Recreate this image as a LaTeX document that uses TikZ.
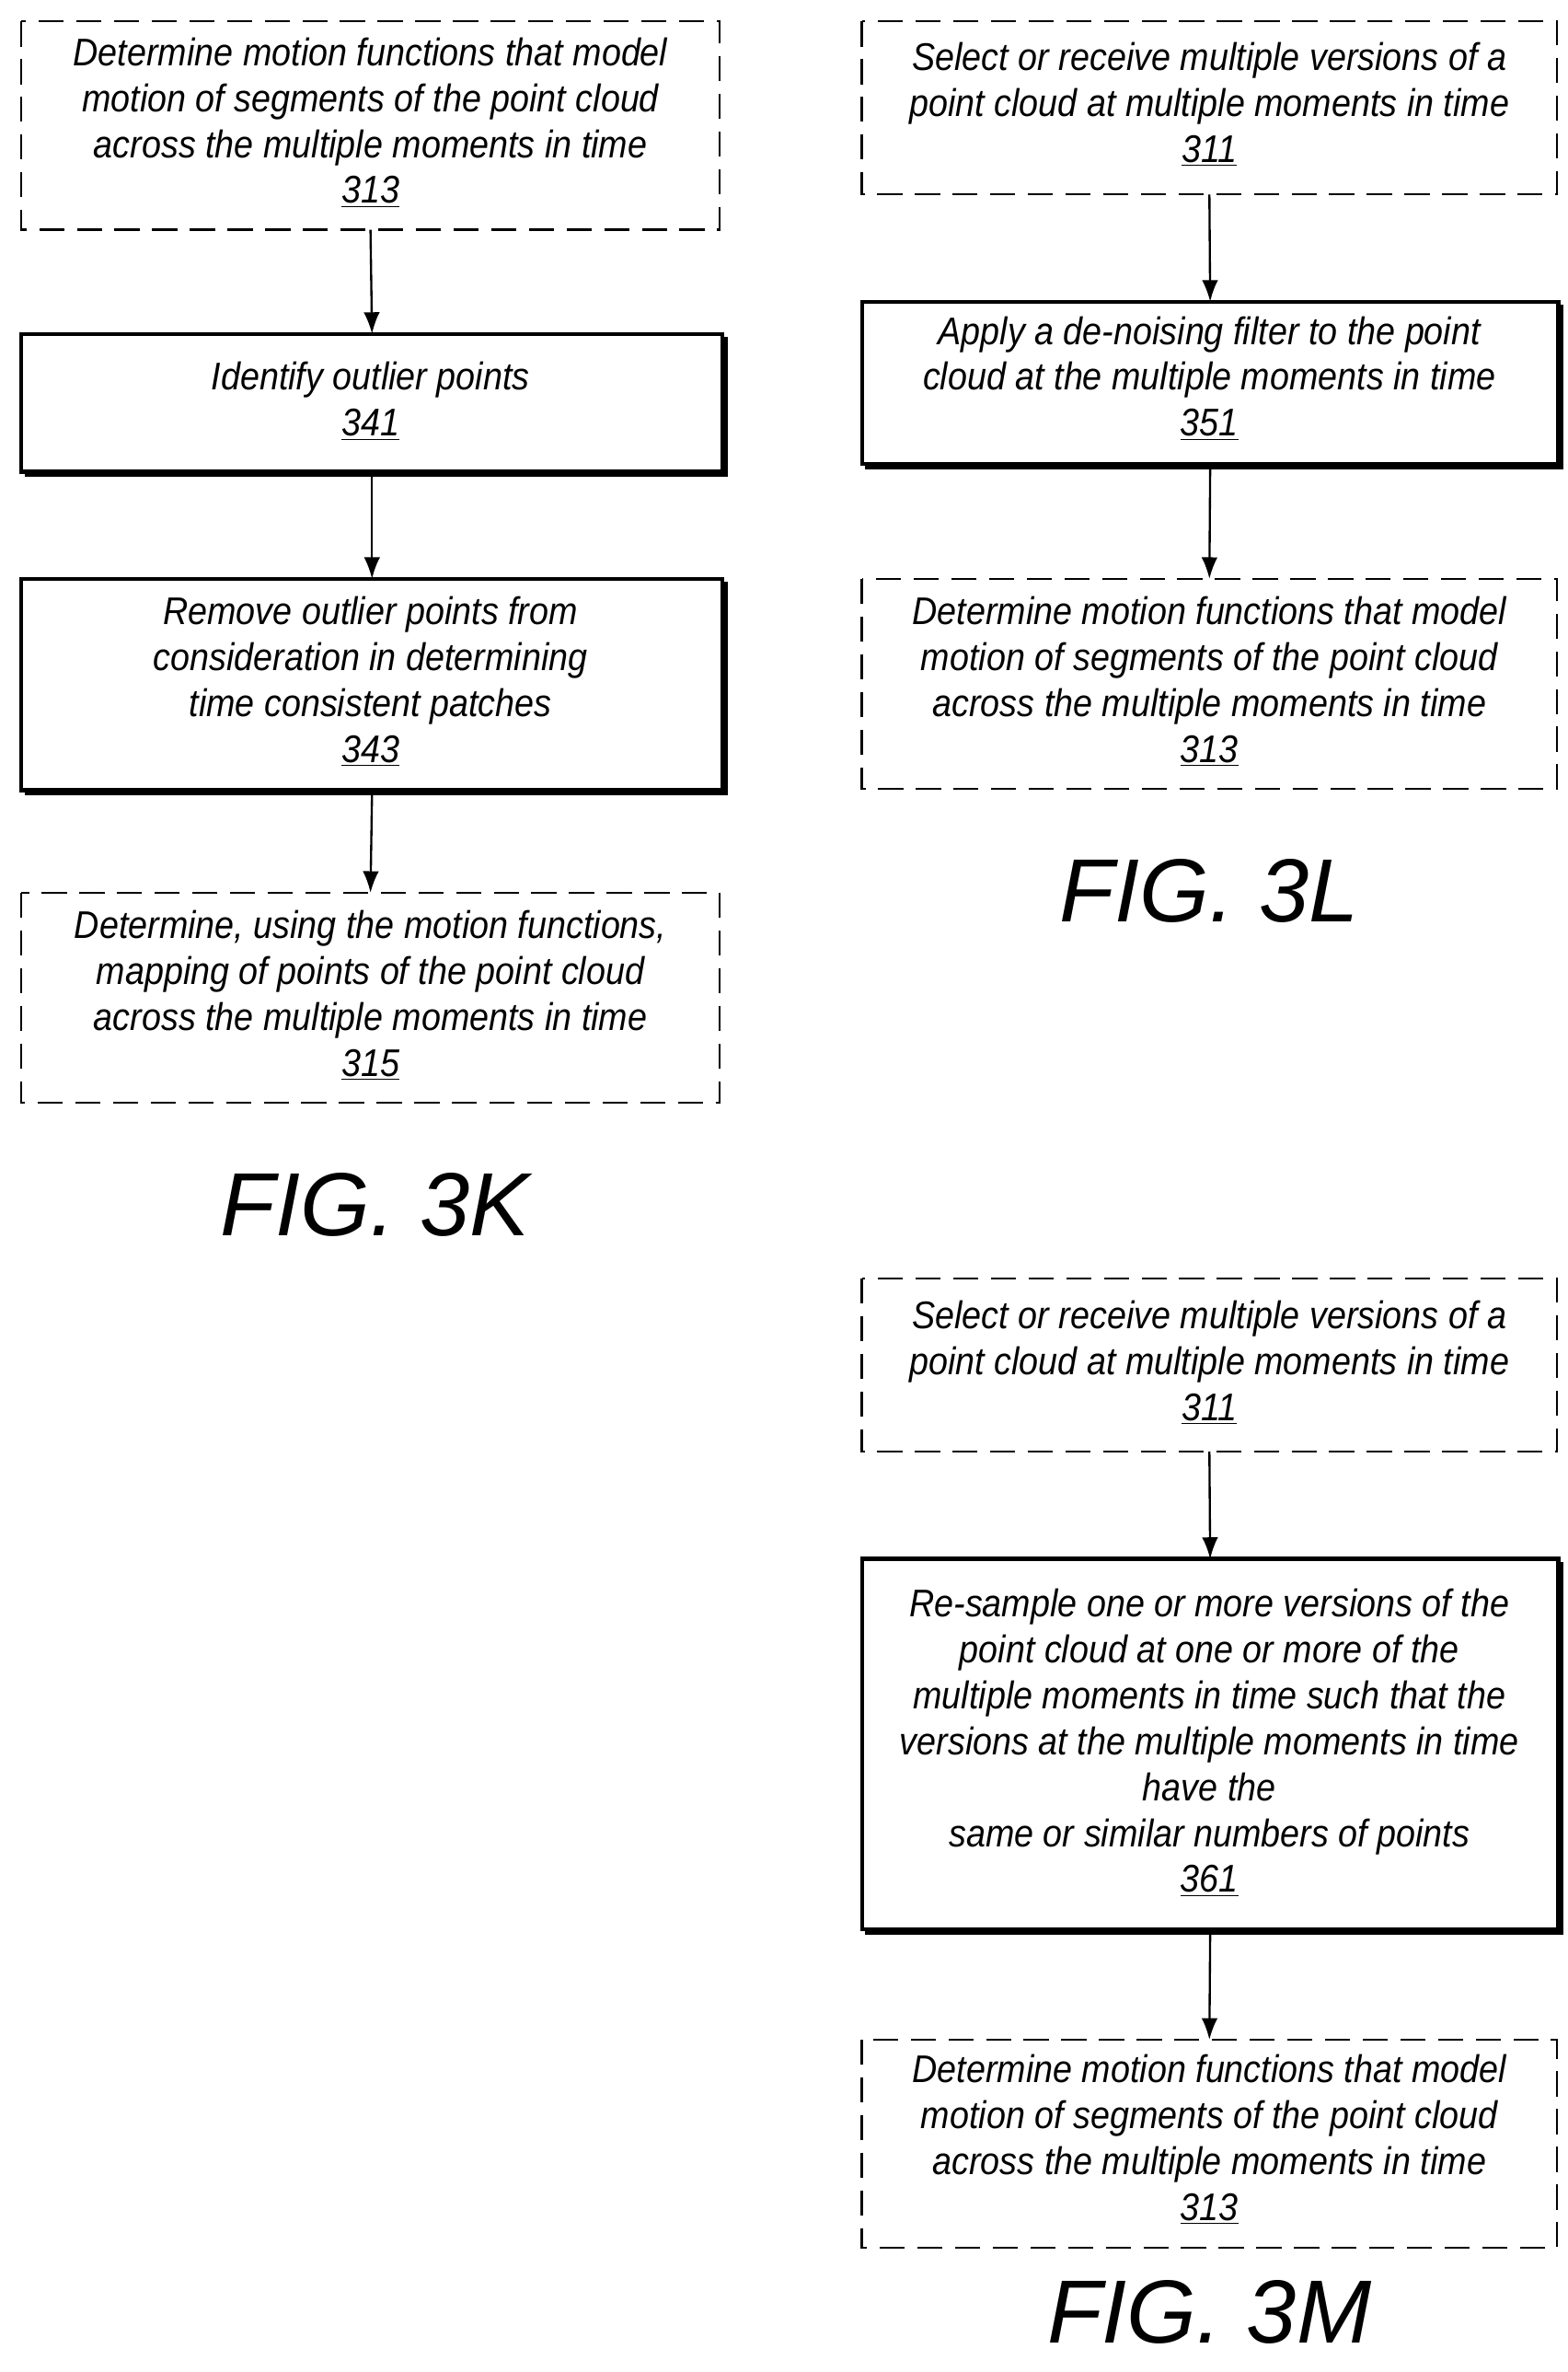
\documentclass[tikz,border=0pt]{standalone}
\usepackage{fontspec}
\setmainfont{Liberation Sans}
\newfontfamily\narrowfont{Liberation Sans}[FakeStretch=0.9]
\usetikzlibrary{arrows.meta}
\begin{document}
\begin{tikzpicture}[x=0.03cm,y=-0.03cm,
  txt/.style={font=\narrowfont\fontsize{21.5}{25.6}\selectfont\itshape,align=center,inner sep=0},
  dbox/.style={draw,line width=1.2pt,dash pattern=on 14pt off 7pt},
  sbox/.style={draw,line width=2.2pt},
  shad/.style={line width=2.5pt},
  arr/.style={-{Latex[length=12pt,width=9pt]},line width=1.2pt},
  fig/.style={font=\fontsize{50}{55}\selectfont\itshape,inner sep=0}]
\useasboundingbox (0,0) rectangle (1024,1549);
\newcommand{\dbx}[5]{\draw[dbox] (#2,#3) rectangle (#4,#5); \coordinate (#1t) at ({(#2+#4)/2},#3); \coordinate (#1b) at ({(#2+#4)/2},#5);}
\newcommand{\sbx}[5]{\draw[sbox] (#2,#3) rectangle (#4,#5); \draw[shad] (#2+2,#5+2) -- (#4+2,#5+2) -- (#4+2,#3+2); \coordinate (#1t) at ({(#2+#4)/2},#3); \coordinate (#1b) at ({(#2+#4)/2},#5+3);}
% FIG 3K
\dbx{ka}{14}{14}{470}{150}
\node[txt] (kax) at (242,80) {Determine motion functions that model\\motion of segments of the point cloud\\across the multiple moments in time\\\underline{313}};
\sbx{kb}{14}{218}{472}{308}
\node[txt] (kbx) at (242,262) {Identify outlier points\\\underline{341}};
\sbx{kc}{14}{378}{472}{516}
\node[txt] (kcx) at (242,445) {Remove outlier points from\\consideration in determining\\time consistent patches\\\underline{343}};
\dbx{kd}{14}{583}{470}{720}
\node[txt] (kdx) at (242,650) {Determine, using the motion functions,\\mapping of points of the point cloud\\across the multiple moments in time\\\underline{315}};
\draw[arr] (kab) -- (kbt);
\draw[arr] (kbb) -- (kct);
\draw[arr] (kcb) -- (kdt);
\node[fig] (f3k) at (245,787) {FIG. 3K};
% FIG 3L
\dbx{la}{563}{14}{1017}{127}
\node[txt] (lax) at (790,68) {Select or receive multiple versions of a\\point cloud at multiple moments in time\\\underline{311}};
\sbx{lb}{563}{197}{1018}{303}
\node[txt] (lbx) at (790,247) {Apply a de-noising filter to the point\\cloud at the multiple moments in time\\\underline{351}};
\dbx{lc}{563}{378}{1017}{515}
\node[txt] (lcx) at (790,445) {Determine motion functions that model\\motion of segments of the point cloud\\across the multiple moments in time\\\underline{313}};
\draw[arr] (lab) -- (lbt);
\draw[arr] (lbb) -- (lct);
\node[fig] (f3l) at (790,582) {FIG. 3L};
% FIG 3M
\dbx{ma}{563}{835}{1017}{948}
\node[txt] (max) at (790,890) {Select or receive multiple versions of a\\point cloud at multiple moments in time\\\underline{311}};
\sbx{mb}{563}{1018}{1018}{1260}
\node[txt] (mbx) at (790,1138) {Re-sample one or more versions of the\\point cloud at one or more of the\\multiple moments in time such that the\\versions at the multiple moments in time\\have the\\same or similar numbers of points\\\underline{361}};
\dbx{mc}{563}{1332}{1017}{1468}
\node[txt] (mcx) at (790,1397) {Determine motion functions that model\\motion of segments of the point cloud\\across the multiple moments in time\\\underline{313}};
\draw[arr] (mab) -- (mbt);
\draw[arr] (mbb) -- (mct);
\node[fig] (f3m) at (790,1510) {FIG. 3M};
\end{tikzpicture}
\end{document}
